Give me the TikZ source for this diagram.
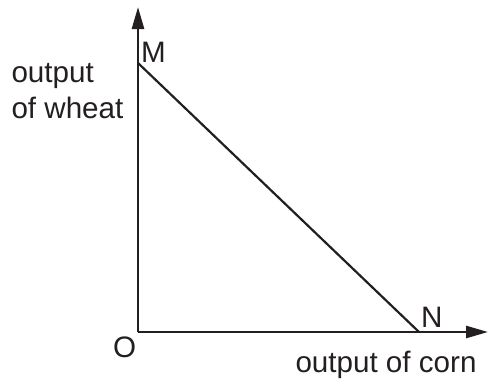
\documentclass[tikz,border=0pt]{standalone}
\usepackage{fontspec}
\setmainfont{Liberation Sans}
\usetikzlibrary{arrows.meta}
\begin{document}
\begin{tikzpicture}[x=1bp,y=1bp,
  axis/.style={line width=2.6bp, draw={rgb,255:red,35;green,31;blue,32}, -{Triangle[length=22bp,width=12bp]}},
  ppf/.style={line width=2.2bp, draw={rgb,255:red,35;green,31;blue,32}},
  lbl/.style={inner sep=0pt, outer sep=0pt, font=\fontsize{29.6bp}{36bp}\selectfont, text={rgb,255:red,35;green,31;blue,32}}]
\useasboundingbox (0,0) rectangle (489,378);
\coordinate (O) at (138,46);
\coordinate (ytip) at (138,371);
\coordinate (xtip) at (488,46);
\coordinate (M) at (138,315);
\coordinate (N) at (419,46);
\draw[axis] (O) -- (ytip);
\draw[axis] (O) -- (xtip);
\draw[ppf] (M) -- (N);
\node[lbl, anchor=base west] (mlab) at (141,316) {M};
\node[lbl, anchor=base west] (nlab) at (421,51) {N};
\node[lbl, anchor=base west] (olab) at (113,21) {O};
\node[lbl, anchor=base west] (xlab) at (295.5,6) {output of corn};
\node[lbl, anchor=base west] (ylab1) at (11.5,296) {output};
\node[lbl, anchor=base west] (ylab2) at (11.5,260) {of wheat};
\end{tikzpicture}
\end{document}
